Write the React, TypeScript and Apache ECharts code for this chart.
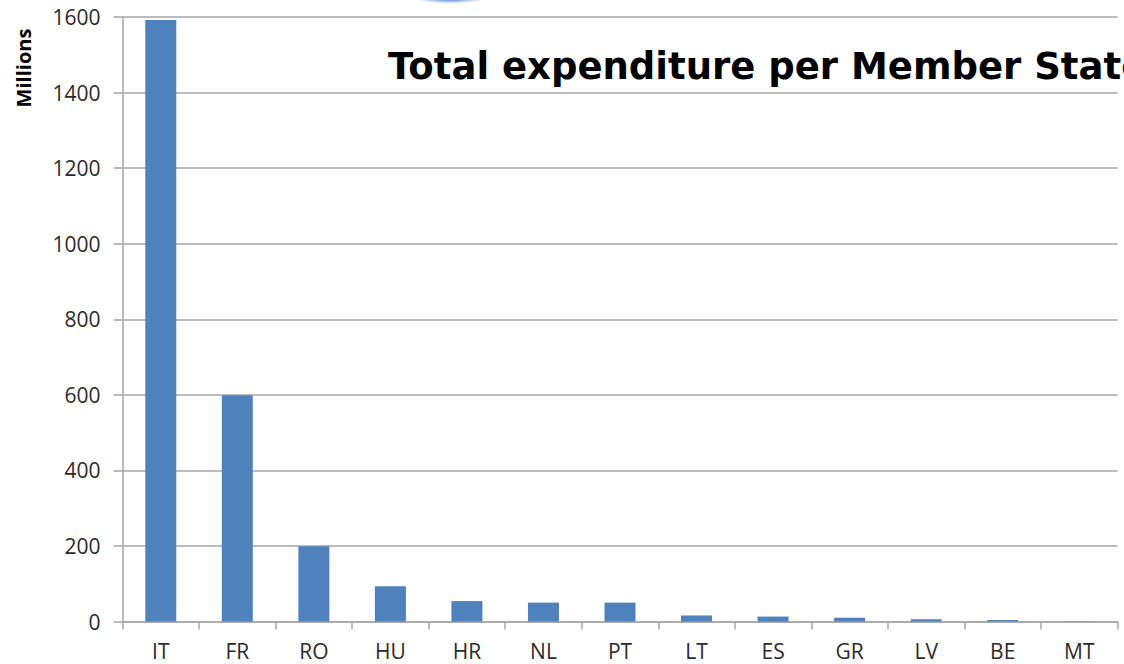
import React, { useEffect, useRef } from "react";
import * as echarts from "echarts";

const categories = ["IT", "FR", "RO", "HU", "HR", "NL", "PT", "LT", "ES", "GR", "LV", "BE", "MT"];
const values = [1592, 599, 199, 93, 54, 50, 50, 16, 13, 10, 6, 4, 0.5];
const yTicks = { min: 0, max: 1600, interval: 200 };
const titleText = "Total expenditure per Member State";
const yName = "Millions";

export default function App() {
  const ref = useRef<HTMLDivElement>(null);
  useEffect(() => {
    if (!ref.current) return;
    const chart = echarts.init(ref.current, null, { renderer: "svg" });
    chart.setOption({
      animation: false,
      backgroundColor: "#ffffff",
      grid: { left: 122.5, top: 17, right: 6.5, bottom: 42.5, containLabel: false },
      graphic: [
        {
          type: "ellipse",
          shape: { cx: 450, cy: -8, rx: 46, ry: 12 },
          style: {
            fill: {
              type: "radial",
              x: 0.5,
              y: 0.5,
              r: 0.5,
              colorStops: [
                { offset: 0, color: "rgba(60,110,190,1)" },
                { offset: 0.7, color: "rgba(90,140,210,0.8)" },
                { offset: 1, color: "rgba(150,180,230,0)" },
              ],
            },
          },
          z: 10,
        },
        {
          type: "text",
          left: 388,
          top: 48,
          style: {
            text: titleText,
            font: "bold 37px 'DejaVu Sans'",
            fill: "#000000",
          },
          z: 20,
        },
        {
          type: "text",
          x: 23,
          y: 68,
          rotation: Math.PI / 2,
          style: {
            text: yName,
            font: "bold 20px 'Open Sans'",
            fill: "#000000",
            align: "center",
            verticalAlign: "middle",
          },
          z: 20,
        },
      ],
      xAxis: {
        type: "category",
        data: categories,
        axisLine: { show: true, lineStyle: { color: "#a6a6a6", width: 1.5 } },
        axisTick: { show: true, length: 8, lineStyle: { color: "#a6a6a6", width: 1.5 } },
        axisLabel: {
          color: "#2b2b2b",
          fontFamily: "Open Sans",
          fontSize: 21,
          margin: 19,
        },
        splitLine: { show: false },
      },
      yAxis: {
        type: "value",
        min: yTicks.min,
        max: yTicks.max,
        interval: yTicks.interval,
        axisLine: { show: true, lineStyle: { color: "#a6a6a6", width: 1.5 } },
        axisTick: { show: true, length: 9, lineStyle: { color: "#a6a6a6", width: 1.5 } },
        axisLabel: {
          color: "#2b2b2b",
          fontFamily: "Open Sans",
          fontSize: 21,
          margin: 22,
          formatter: (v: number) => String(v),
        },
        splitLine: { show: true, lineStyle: { color: "#a6a6a6", width: 1.5 } },
      },
      series: [
        {
          type: "bar",
          data: values,
          barWidth: 31,
          itemStyle: { color: "#4f81bd" },
        },
      ],
    });
    return () => chart.dispose();
  }, []);
  return <div ref={ref} style={{ width: 1124, height: 664, position: "fixed", left: 0, top: 0 }} />;
}
